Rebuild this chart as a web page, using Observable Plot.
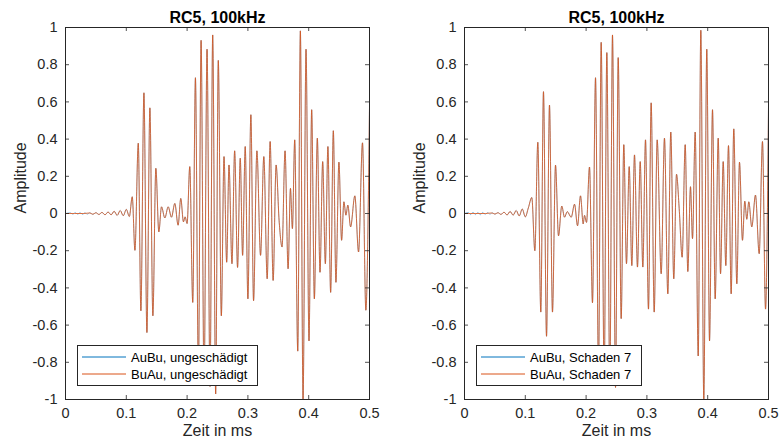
<!DOCTYPE html>
<html><head><meta charset="utf-8">
<script src="https://cdn.jsdelivr.net/npm/d3@7"></script>
<script src="https://cdn.jsdelivr.net/npm/@observablehq/plot@0.6"></script>
<style>
body{margin:0;background:#fff;}
#fig{position:relative;width:781px;height:446px;background:#fff;font-family:"Liberation Sans",Arial,sans-serif;}
#fig > svg{position:absolute;top:0;}
.legend{position:absolute;background:#fff;border:1px solid #262626;box-sizing:border-box;}
.legend .row{position:absolute;left:4px;height:16px;display:flex;align-items:center;font-size:13px;color:#000;white-space:nowrap;}
.legend .row svg{display:block;margin-right:5px;}
</style></head><body><div id="fig"></div>
<script>
// ---------- texts & ticks ----------
const titles = ["RC5, 100kHz", "RC5, 100kHz"];
const xLabel = "Zeit in ms";
const yLabel = "Amplitude";
const leftNames = ["AuBu, ungeschädigt", "BuAu, ungeschädigt"];
const rightNames = ["AuBu, Schaden 7", "BuAu, Schaden 7"];
const xTicks = [0, 0.1, 0.2, 0.3, 0.4, 0.5];
const xTickLabels = ["0", "0.1", "0.2", "0.3", "0.4", "0.5"];
const yTicks = [-1, -0.8, -0.6, -0.4, -0.2, 0, 0.2, 0.4, 0.6, 0.8, 1];
const yTickLabels = ["-1", "-0.8", "-0.6", "-0.4", "-0.2", "0", "0.2", "0.4", "0.6", "0.8", "1"];
const colors = ["#0072BD", "#D95319"];

// ---------- left panel (ungeschädigt): signal extrema, time in ms ----------
const leftAuBuStartT = [0, 0.008, 0.012, 0.016, 0.02, 0.024, 0.028, 0.032, 0.036, 0.04, 0.045, 0.05, 0.055, 0.06, 0.065, 0.07, 0.075, 0.08, 0.085, 0.09, 0.095, 0.1, 0.105];
const leftAuBuStartV = [0, 0.004, -0.004, 0.005, -0.004, 0.005, -0.005, 0.004, -0.004, 0.004, -0.005, 0.005, -0.006, 0.006, -0.007, 0.008, -0.007, 0.012, -0.01, 0.016, -0.012, 0.022, -0.016];
const leftBuAuStartT = [0, 0.03, 0.04, 0.045, 0.05, 0.055, 0.06, 0.065, 0.07, 0.075, 0.08, 0.085, 0.09, 0.095, 0.1, 0.105];
const leftBuAuStartV = [0, 0, 0.003, -0.004, 0.004, -0.005, 0.006, -0.007, 0.008, -0.007, 0.012, -0.01, 0.016, -0.012, 0.022, -0.016];
const leftTime = [
  0.1098, 0.1142, 0.1197, 0.1240, 0.1290, 0.1339, 0.1388, 0.1437, 0.1486, 0.1535,
  0.1579, 0.1634, 0.1689, 0.1743, 0.1798, 0.1852, 0.1896, 0.1940, 0.1967, 0.2000,
  0.2044, 0.2093, 0.2137, 0.2186, 0.2230, 0.2279, 0.2328, 0.2377, 0.2421, 0.2470,
  0.2513, 0.2563, 0.2607, 0.2651, 0.2689, 0.2738, 0.2782, 0.2830, 0.2874, 0.2913,
  0.2956, 0.3000, 0.3049, 0.3093, 0.3148, 0.3208, 0.3262, 0.3317, 0.3366, 0.3415,
  0.3464, 0.3513, 0.3562, 0.3611, 0.3661, 0.3700, 0.3732, 0.3770, 0.3820, 0.3863,
  0.3907, 0.3956, 0.4005, 0.4049, 0.4093, 0.4142, 0.4186, 0.4230, 0.4274, 0.4316,
  0.4361, 0.4405, 0.4448, 0.4497, 0.4541, 0.4579, 0.4612, 0.4644, 0.4689, 0.4759,
  0.4820, 0.4885, 0.4940, 0.5000];
const leftAmp = [
  0.090, -0.198, 0.378, -0.523, 0.649, -0.640, 0.568, -0.550, 0.243, -0.099,
  0.036, -0.024, 0.036, -0.020, 0.054, -0.063, 0.081, -0.045, -0.018, -0.054,
  0.252, -0.478, 0.730, -0.850, 0.931, -0.920, 0.883, -0.930, 0.960, -0.970,
  0.823, -0.550, 0.306, -0.262, 0.261, -0.270, 0.337, -0.290, 0.297, -0.225,
  0.360, -0.459, 0.531, -0.469, 0.337, -0.225, 0.306, -0.351, 0.387, -0.360,
  0.261, -0.036, -0.180, 0.337, -0.297, 0.135, -0.081, 0.396, -0.740, 0.982,
  -1.000, 0.883, -0.685, 0.558, -0.459, 0.405, -0.316, 0.279, -0.270, 0.360,
  -0.424, 0.445, -0.370, 0.276, -0.144, 0.063, -0.009, 0.045, -0.072, 0.095,
  -0.207, 0.380, -0.520, 0.570];

// ---------- right panel (Schaden 7) ----------
const rightAuBuStartT = [0, 0.006, 0.01, 0.014, 0.018, 0.022, 0.026, 0.03, 0.034, 0.038, 0.042, 0.046, 0.05, 0.055, 0.06, 0.065, 0.07, 0.075, 0.08, 0.085, 0.09, 0.095, 0.1, 0.105];
const rightAuBuStartV = [0, 0.006, -0.006, 0.007, -0.006, 0.006, -0.007, 0.006, -0.005, 0.005, -0.004, 0.004, -0.004, 0.005, -0.005, 0.007, -0.008, 0.011, -0.009, 0.016, -0.013, 0.024, -0.018, 0.03];
const rightBuAuStartT = [0, 0.035, 0.045, 0.05, 0.055, 0.06, 0.065, 0.07, 0.075, 0.08, 0.085, 0.09, 0.095, 0.1, 0.105];
const rightBuAuStartV = [0, 0, 0.003, -0.003, 0.004, -0.005, 0.007, -0.008, 0.011, -0.009, 0.016, -0.013, 0.024, -0.018, 0.03];
const rightTime = [
  0.1107, 0.1157, 0.1206, 0.1255, 0.1299, 0.1349, 0.1398, 0.1447, 0.1497, 0.1546,
  0.1600, 0.1645, 0.1690, 0.1755, 0.1810, 0.1859, 0.1908, 0.1952, 0.1974, 0.2007,
  0.2056, 0.2105, 0.2155, 0.2204, 0.2248, 0.2297, 0.2341, 0.2390, 0.2434, 0.2484,
  0.2528, 0.2577, 0.2620, 0.2664, 0.2709, 0.2752, 0.2796, 0.2845, 0.2890, 0.2933,
  0.2977, 0.3026, 0.3070, 0.3120, 0.3169, 0.3235, 0.3289, 0.3344, 0.3393, 0.3442,
  0.3487, 0.3531, 0.3580, 0.3630, 0.3673, 0.3717, 0.3750, 0.3794, 0.3844, 0.3887,
  0.3936, 0.3985, 0.4030, 0.4079, 0.4123, 0.4173, 0.4211, 0.4255, 0.4298, 0.4342,
  0.4386, 0.4429, 0.4479, 0.4523, 0.4572, 0.4610, 0.4643, 0.4676, 0.4725, 0.4786,
  0.4847, 0.4901, 0.4951, 0.5000];
const rightAmp = [
  0.086, -0.200, 0.383, -0.530, 0.655, -0.660, 0.583, -0.530, 0.260, -0.120,
  0.040, -0.020, 0.010, -0.020, 0.050, -0.066, 0.095, -0.056, -0.010, -0.048,
  0.250, -0.480, 0.730, -0.850, 0.920, -0.900, 0.865, -0.920, 0.960, -0.935,
  0.838, -0.565, 0.370, -0.270, 0.252, -0.280, 0.315, -0.288, 0.279, -0.288,
  0.396, -0.514, 0.595, -0.530, 0.396, -0.324, 0.405, -0.432, 0.438, -0.351,
  0.211, 0.027, -0.235, 0.370, -0.312, 0.144, -0.135, 0.438, -0.766, 0.985,
  -1.000, 0.883, -0.685, 0.558, -0.459, 0.405, -0.324, 0.279, -0.280, 0.365,
  -0.432, 0.455, -0.378, 0.276, -0.144, 0.066, -0.031, 0.063, -0.072, 0.099,
  -0.216, 0.387, -0.514, 0.568];

// ---------- drawing ----------
const FONT = '"Liberation Sans", Arial, Helvetica, sans-serif';
const pts = (ts, vs) => ts.map((t, i) => ({t, v: vs[i]}));
const fig = document.getElementById("fig");

function panel({left, width, mLeft, mRight, blue, orange, title, names, legLeft, legWidth}) {
  const H = 446, mTop = 27, mBottom = 47;
  const plotH = H - mTop - mBottom, plotW = width - mLeft - mRight, tl = 4;
  const chart = Plot.plot({
    width, height: H, marginLeft: mLeft, marginRight: mRight, marginTop: mTop, marginBottom: mBottom,
    style: {fontFamily: FONT, color: "#262626", background: "transparent", overflow: "visible"},
    x: {domain: [0, 0.5]},
    y: {domain: [-1, 1]},
    marks: [
      Plot.line(blue, {x: "t", y: "v", stroke: colors[0], strokeWidth: 0.4, curve: "monotone-x", clip: true}),
      Plot.line(orange, {x: "t", y: "v", stroke: colors[1], strokeWidth: 0.8, curve: "monotone-x", clip: true}),
      Plot.tickX(xTicks, {x: d => d, stroke: "#262626", strokeWidth: 0.8, insetTop: plotH - tl}),
      Plot.tickX(xTicks, {x: d => d, stroke: "#262626", strokeWidth: 0.8, insetBottom: plotH - tl}),
      Plot.tickY(yTicks, {y: d => d, stroke: "#262626", strokeWidth: 0.8, insetRight: plotW - tl}),
      Plot.tickY(yTicks, {y: d => d, stroke: "#262626", strokeWidth: 0.8, insetLeft: plotW - tl}),
      Plot.frame({stroke: "#262626", strokeWidth: 1}),
      Plot.axisX(xTicks, {tickSize: 0, tickPadding: 8, tickFormat: d => xTickLabels[xTicks.indexOf(d)], label: null, fontSize: 14.5, fill: "#262626"}),
      Plot.axisY(yTicks, {tickSize: 0, tickPadding: 8, tickFormat: d => yTickLabels[yTicks.indexOf(d)], label: null, fontSize: 14.5, fill: "#262626"}),
      Plot.text([xLabel], {text: d => d, frameAnchor: "bottom", dy: 36, fontSize: 16, fill: "#262626"}),
      Plot.text([yLabel], {text: d => d, frameAnchor: "left", dx: -45, rotate: -90, fontSize: 16, fill: "#262626"}),
      Plot.text([title], {text: d => d, frameAnchor: "top", dy: -16, fontSize: 16, fontWeight: "bold", fill: "#000"})
    ]
  });
  chart.style.left = left + "px";
  fig.appendChild(chart);

  const box = document.createElement("div");
  box.className = "legend";
  box.style.left = legLeft + "px";
  box.style.top = "345px";
  box.style.width = legWidth + "px";
  box.style.height = "41px";
  names.forEach((n, i) => {
    const row = document.createElement("div");
    row.className = "row";
    row.style.top = (3 + i * 17) + "px";
    row.innerHTML = `<svg width="44" height="16"><line x1="0" x2="44" y1="8" y2="8" stroke="${colors[i]}" stroke-width="1"/></svg><span>${n}</span>`;
    box.appendChild(row);
  });
  fig.appendChild(box);
}

panel({
  left: 0, width: 390, mLeft: 65, mRight: 21,
  blue: pts(leftAuBuStartT, leftAuBuStartV).concat(pts(leftTime, leftAmp)),
  orange: pts(leftBuAuStartT, leftBuAuStartV).concat(pts(leftTime, leftAmp)),
  title: titles[0], names: leftNames, legLeft: 77, legWidth: 181
});
panel({
  left: 390, width: 391, mLeft: 74, mRight: 13,
  blue: pts(rightAuBuStartT, rightAuBuStartV).concat(pts(rightTime, rightAmp)),
  orange: pts(rightBuAuStartT, rightBuAuStartV).concat(pts(rightTime, rightAmp)),
  title: titles[1], names: rightNames, legLeft: 476, legWidth: 166
});
</script></body></html>
